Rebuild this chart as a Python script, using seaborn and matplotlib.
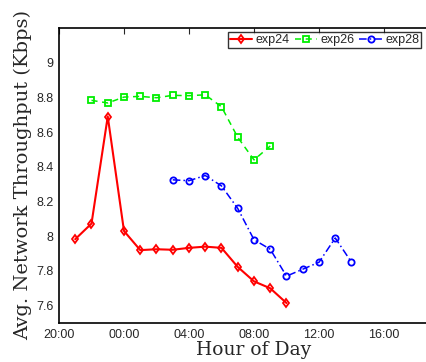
import matplotlib
matplotlib.use("Agg")
import matplotlib.pyplot as plt
import seaborn as sns
import pandas as pd

# hours relative to midnight (20:00 of previous day = -4)
hours_exp24 = [-3, -2, -1, 0, 1, 2, 3, 4, 5, 6, 7, 8, 9, 10]
vals_exp24 = [7.983, 8.073, 8.69, 8.03, 7.92, 7.925, 7.922, 7.933, 7.94, 7.933, 7.823, 7.74, 7.70, 7.615]

hours_exp26 = [-2, -1, 0, 1, 2, 3, 4, 5, 6, 7, 8, 9]
vals_exp26 = [8.783, 8.768, 8.802, 8.806, 8.798, 8.812, 8.81, 8.815, 8.746, 8.57, 8.44, 8.52]

hours_exp28 = [3, 4, 5, 6, 7, 8, 9, 10, 11, 12, 13, 14]
vals_exp28 = [8.325, 8.32, 8.35, 8.29, 8.16, 7.98, 7.925, 7.77, 7.81, 7.85, 7.99, 7.85]

tick_hours = [-4, 0, 4, 8, 12, 16, 20]
tick_labels = ["20:00", "00:00", "04:00", "08:00", "12:00", "16:00", ""]
y_ticks = [7.6, 7.8, 8.0, 8.2, 8.4, 8.6, 8.8, 9.0]
y_labels = ["7.6", "7.8", "8", "8.2", "8.4", "8.6", "8.8", "9"]

sns.set_style("white")
plt.rcParams['font.family'] = ['Liberation Sans', 'DejaVu Sans']

fig = plt.figure(figsize=(4.27, 3.62), dpi=100)
ax = fig.add_axes([59/427, 39/362, 390/427, 295/362])

series = [
    ("exp24", hours_exp24, vals_exp24, "#ff0000", "-", "d", 1.5),
    ("exp26", hours_exp26, vals_exp26, "#00ee00", (0, (4, 3)), "s", 1.1),
    ("exp28", hours_exp28, vals_exp28, "#0000ff", (0, (5, 2, 1, 2)), "o", 1.1),
]
for name, xs, ys, col, ls, mk, lw in series:
    df = pd.DataFrame({"hour": xs, "val": ys})
    sns.lineplot(data=df, x="hour", y="val", ax=ax, color=col, linestyle=ls,
                 marker=mk, markersize=4.5, markerfacecolor="none",
                 markeredgecolor=col, markeredgewidth=1.3,
                 linewidth=lw, label=name)

ax.set_xlim(-4, 20)
ax.set_ylim(7.5, 9.2)
ax.set_xticks(tick_hours)
ax.set_xticklabels(tick_labels, fontsize=9)
ax.set_yticks(y_ticks)
ax.set_yticklabels(y_labels, fontsize=9)
ax.tick_params(direction="in", top=True, right=True, length=4, width=0.8, pad=4)
for s in ax.spines.values():
    s.set_visible(True)
    s.set_color("black")
    s.set_linewidth(1.2)

ax.set_xlabel("Hour of Day", family=["DejaVu Serif"], fontsize=13.5, labelpad=0)
ax.set_ylabel("Avg. Network Throughput (Kbps)", family=["DejaVu Serif"], fontsize=14, labelpad=3)

leg = ax.legend(loc="upper left", bbox_to_anchor=(228/427, 1 - 32/362),
                bbox_transform=fig.transFigure, ncol=3, fontsize=9,
                frameon=True, fancybox=False, borderpad=0.15, handlelength=1.8,
                handletextpad=0.25, columnspacing=0.4, borderaxespad=0)
leg.get_frame().set_edgecolor("black")
leg.get_frame().set_linewidth(1.0)

fig.savefig("out.png", dpi=100)
